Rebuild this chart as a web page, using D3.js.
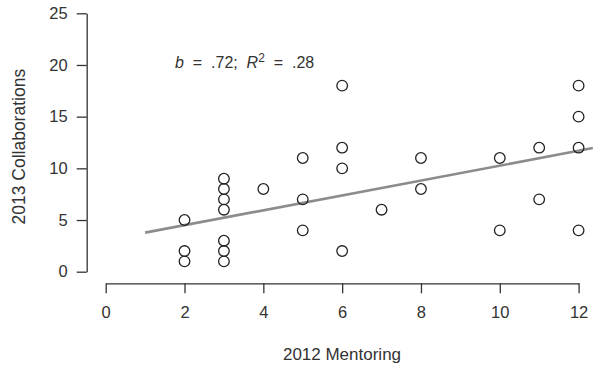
<!DOCTYPE html>
<html>
<head>
<meta charset="utf-8">
<script src="https://cdn.jsdelivr.net/npm/d3@7"></script>
<style>
  body { margin: 0; background: #fff; }
  svg text { font-family: "Liberation Sans", Arial, sans-serif; fill: #333; }
  .axis path, .axis line { stroke: #333; stroke-width: 1.3; }
  .axis text { font-size: 16.5px; fill: #333; }
  .pt { fill: none; stroke: #222; stroke-width: 1.3; }
  .fit_line { stroke: #8c8c8c; stroke-width: 2.6; }
</style>
</head>
<body>
<svg id="chart" width="595" height="367"></svg>
<script>
// 2012 mentoring vs 2013 collaborations, one entry per person
var mentoring      = [2, 2, 2, 3, 3, 3, 3, 3, 3, 3, 4, 5, 5, 5, 6, 6, 6, 6, 7, 8, 8, 10, 10, 11, 11, 12, 12, 12, 12];
var collaborations = [5, 2, 1, 9, 8, 7, 6, 3, 2, 1, 8, 11, 7, 4, 18, 12, 10, 2, 6, 11, 8, 11, 4, 12, 7, 18, 15, 12, 4];

// fitted line as drawn (intercept, slope) and its x extent
var fitIntercept = 3.06;
var fitSlope     = 0.72;
var fitRange     = [1, 12.36];

var xTicks = [0, 2, 4, 6, 8, 10, 12];
var yTicks = [0, 5, 10, 15, 20, 25];

var svg = d3.select("#chart");

var xAxis = d3.scaleLinear().domain([0, 12]).range([105.7, 578.6]);
var yAxis = d3.scaleLinear().domain([0, 25]).range([271.7, 13.3]);

// y axis (R style, offset from plot)
svg.append("g")
    .attr("class", "axis")
    .attr("transform", "translate(86.7,0)")
    .call(d3.axisLeft(yAxis).tickValues(yTicks).tickSize(10).tickSizeOuter(0).tickPadding(9))
    .call(function(g){ g.attr("font-family", null).attr("font-size", null); });

// x axis
svg.append("g")
    .attr("class", "axis")
    .attr("transform", "translate(0,283.3)")
    .call(d3.axisBottom(xAxis).tickValues(xTicks).tickSize(10).tickSizeOuter(0).tickPadding(13))
    .call(function(g){ g.attr("font-family", null).attr("font-size", null); });

// regression line
svg.append("line")
    .attr("class", "fit_line")
    .attr("x1", xAxis(fitRange[0]))
    .attr("y1", yAxis(fitIntercept + fitSlope * fitRange[0]))
    .attr("x2", xAxis(fitRange[1]))
    .attr("y2", yAxis(fitIntercept + fitSlope * fitRange[1]));

// points
svg.append("g")
    .selectAll("circle")
    .data(mentoring)
    .enter()
    .append("circle")
      .attr("class", "pt")
      .attr("cx", function(d){ return xAxis(d); })
      .attr("cy", function(d, i){ return yAxis(collaborations[i]); })
      .attr("r", 5.3);

// annotation
var note = svg.append("text")
    .attr("x", 175)
    .attr("y", 68)
    .attr("font-size", "16px")
    .attr("xml:space", "preserve");
note.append("tspan").attr("font-style", "italic").text("b");
note.append("tspan").text("  =  .72;  ");
note.append("tspan").attr("font-style", "italic").text("R");
note.append("tspan").attr("font-size", "12px").attr("dy", -6).text("2");
note.append("tspan").attr("dy", 6).text("  =  .28");

// axis titles
svg.append("text")
    .attr("x", 342)
    .attr("y", 360)
    .attr("text-anchor", "middle")
    .attr("font-size", "17px")
    .text("2012 Mentoring");

svg.append("text")
    .attr("transform", "translate(25,146.7) rotate(-90)")
    .attr("text-anchor", "middle")
    .attr("font-size", "17.5px")
    .text("2013 Collaborations");
</script>
</body>
</html>
